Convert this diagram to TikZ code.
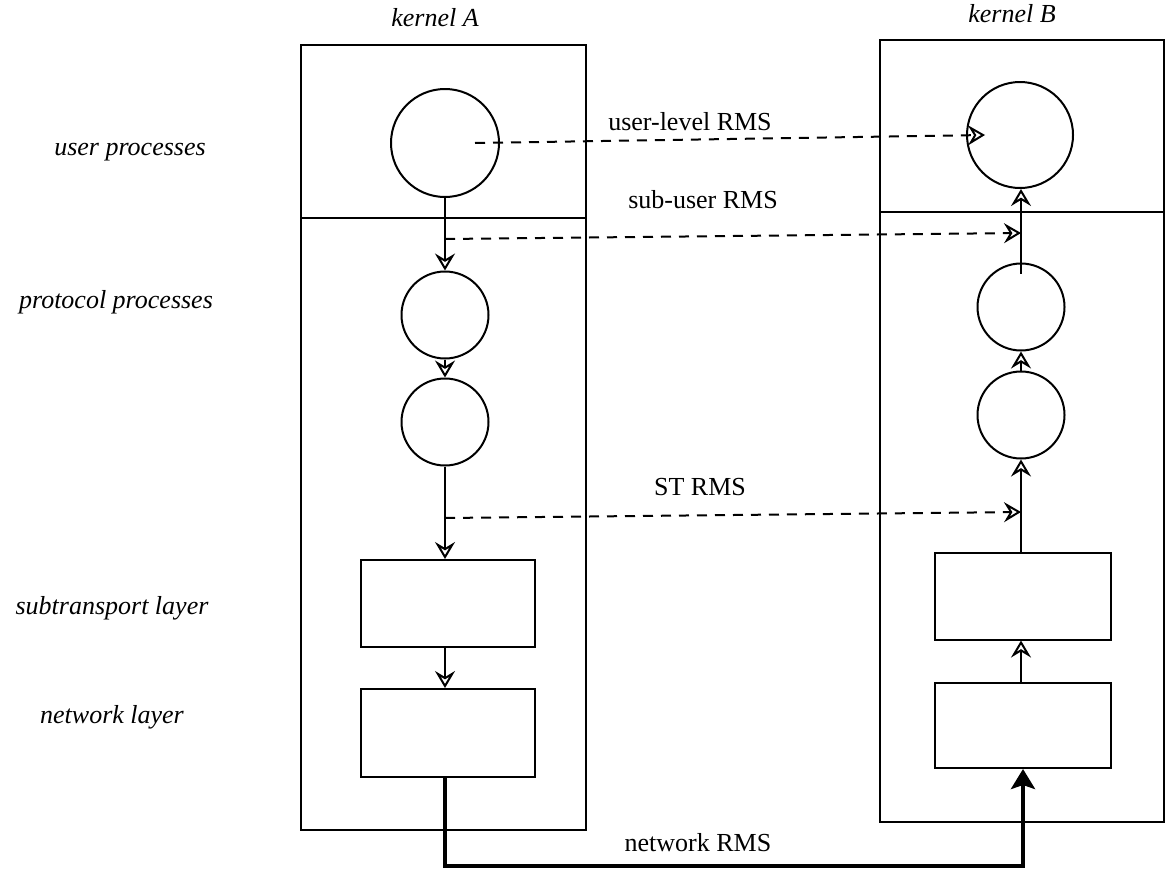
\documentclass[tikz,border=0pt]{standalone}
\usepackage{fontspec}
\setmainfont{Liberation Serif}
\usetikzlibrary{arrows.meta}
\begin{document}
\begin{tikzpicture}[x=1pt,y=-1pt,
  line width=2pt,
  box/.style={draw, inner sep=0pt},
  proc/.style={draw, circle, inner sep=0pt},
  lbl/.style={font=\fontsize{26}{30}\selectfont\itshape},
  rms/.style={font=\fontsize{26}{30}\selectfont},
  flow/.style={-{Stealth[open,length=17pt,width=20pt,inset=6pt,line width=2pt]}},
  msg/.style={flow, dash pattern=on 10pt off 8pt},
  net/.style={line width=4.5pt, -{Stealth[length=20pt,width=24pt,inset=4pt]}}]
\useasboundingbox (0,0) rectangle (1166,870);

% kernels
\node[box, minimum width=285pt, minimum height=785pt] (kA) at (443.5,437.5) {};
\node[box, minimum width=284pt, minimum height=782pt] (kB) at (1022,431) {};
\coordinate (dA) at (0,218);
\coordinate (dB) at (0,212);
\draw (kA.west |- dA) -- (kA.east |- dA);
\draw (kB.west |- dB) -- (kB.east |- dB);

\node[lbl] (tkA) at (435,18) {kernel A};
\node[lbl] (tkB) at (1012,14) {kernel B};

% layer labels
\node[lbl] (lu) at (130,152) {user processes};
\node[lbl] (lp) at (116,302) {protocol processes};
\node[lbl] (ls) at (112,608) {subtransport layer};
\node[lbl] (ln) at (112,717) {network layer};

% kernel A contents
\node[proc, minimum size=108pt] (uA) at (445,143) {};
\node[proc, minimum size=87pt] (pA1) at (445,315) {};
\node[proc, minimum size=87pt] (pA2) at (445,422) {};
\node[box, minimum width=174pt, minimum height=87pt] (sA) at (448,603.5) {};
\node[box, minimum width=174pt, minimum height=88pt] (nA) at (448,733) {};

% kernel B contents
\node[proc, minimum size=106pt] (uB) at (1020,135) {};
\node[proc, minimum size=87pt] (pB1) at (1021,307) {};
\node[proc, minimum size=87pt] (pB2) at (1021,415) {};
\node[box, minimum width=176pt, minimum height=87pt] (sB) at (1023,596) {};
\node[box, minimum width=176pt, minimum height=85pt] (nB) at (1023,725.5) {};

% flows in A
\draw[flow] (uA) -- (pA1);
\draw[flow] (pA1) -- (pA2);
\draw[flow] (pA2.south) -- (pA2.south |- sA.north);
\draw[flow] (sA.south -| pA2.south) -- (nA.north -| pA2.south);

% flows in B
\draw[flow] (nB.north -| pB2.south) -- (sB.south -| pB2.south);
\draw[flow] (sB.north -| pB2.south) -- (pB2.south);
\draw[flow] (pB2) -- (pB1);
\draw[flow] ([yshift=-11pt]pB1.north) -- (uB.south -| pB1.north);

% RMS messages
\coordinate (c1) at (445,239);
\coordinate (c2) at (1021,233);
\coordinate (c3) at (445,518);
\coordinate (c4) at (1021,512);
\draw[msg] ([xshift=30pt]uA.center) -- ([xshift=-35pt]uB.center);
\draw[msg] (c1) -- (c2);
\draw[msg] (c3) -- (c4);

\node[rms] (r1) at (690,122) {user-level RMS};
\node[rms] (r2) at (703,200) {sub-user RMS};
\node[rms] (r3) at (700,487) {ST RMS};
\node[rms] (r4) at (698,843) {network RMS};

% network path
\coordinate (nbot) at (0,866);
\draw[net] (nA.south -| pA2.south) -- (pA2.south |- nbot) -| (nB.south);
\end{tikzpicture}
\end{document}
